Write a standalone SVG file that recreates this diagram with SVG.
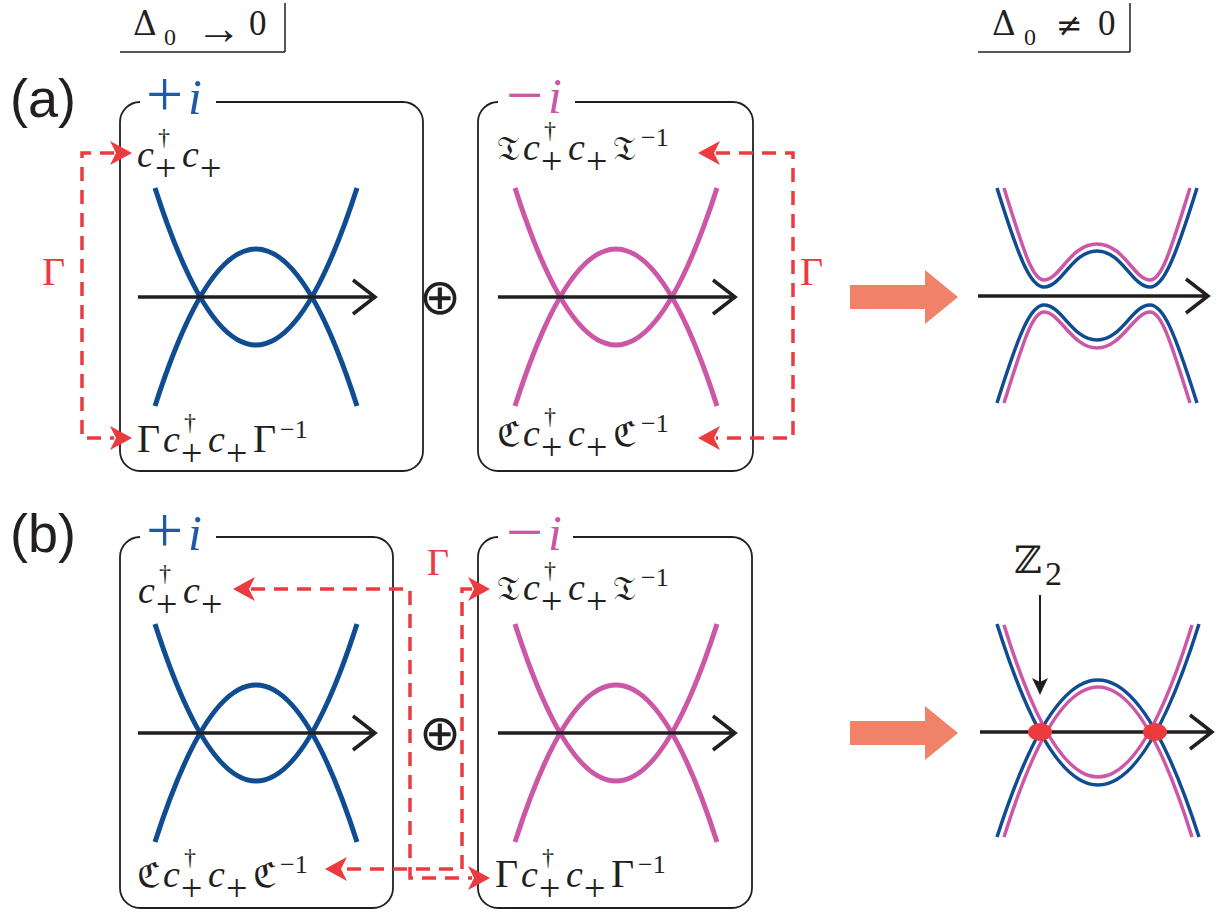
<svg xmlns="http://www.w3.org/2000/svg" xmlns:xlink="http://www.w3.org/1999/xlink" width="1225" height="914" viewBox="0 0 1225 914">
<style>
.m{font-family:"Liberation Serif",serif;fill:#231f20}
.it{font-style:italic}
.frak{font-family:"DejaVu Serif","DejaVu Sans","Noto Sans",serif}
.sans{font-family:"Liberation Sans",Arial,sans-serif;fill:#231f20}
.box{fill:none;stroke:#231f20;stroke-width:1.8}
.blue{fill:none;stroke:#0f4c92;stroke-width:5}
.pink{fill:none;stroke:#cc57a6;stroke-width:5}
.blue2{fill:none;stroke:#0f4c92;stroke-width:3.5}
.pink2{fill:none;stroke:#cc57a6;stroke-width:3.5}
.axis{fill:none;stroke:#231f20;stroke-width:3.5}
.dash{fill:none;stroke:#eb3b3f;stroke-width:3.5;stroke-dasharray:14 9}
.rh{fill:#eb3b3f}
.big{fill:#f0826a}
.thin{fill:none;stroke:#231f20;stroke-width:1.5}
.red{fill:#eb3b3f}
.op{font-family:"DejaVu Sans",sans-serif;fill:#231f20}
</style>
<defs>
<path id="ah" d="M0,0 Q-9,-5 -22,-12 L-16,0 L-22,12 Q-9,5 0,0 Z"/>
</defs>

<g id="headers">
<text class="m frak" x="133" y="35" font-size="33">Δ</text>
<text class="m" x="164" y="45" font-size="24">0</text>
<text class="m" x="196" y="44" font-size="46">→</text>
<text class="m" x="249" y="35" font-size="35">0</text>
<path class="thin" d="M120,52 H285 M285,3 V52"/>
<text class="m frak" x="992" y="35" font-size="33">Δ</text>
<text class="m" x="1024" y="45" font-size="24">0</text>
<text class="m frak" x="1056" y="36" font-size="32">≠</text>
<text class="m" x="1098" y="35" font-size="35">0</text>
<path class="thin" d="M978,52 H1130 M1130,3 V52"/>
</g>

<g id="panel-labels">
<text class="sans" x="10" y="117" font-size="54">(a)</text>
<text class="sans" x="10" y="552" font-size="54">(b)</text>
</g>

<g id="box-a-plus">
<path class="box" d="M216,102 H403 A20,20 0 0 1 423,122 V451 A20,20 0 0 1 403,471 H140 A20,20 0 0 1 120,451 V122 A20,20 0 0 1 140,102"/>
<text class="m" font-size="66" style="fill:#1f5aa6"><tspan x="146" y="116">+</tspan><tspan class="it" x="188" y="114" font-size="50">i</tspan></text>
<path class="blue" d="M155,188 Q256,502 357,188 M155,406 Q256,92 357,406"/>
<path class="axis" d="M138,297 H375 M353,280 L375,297 L353,314"/>
<text class="m" font-size="38"><tspan class="it" x="137" y="167">c</tspan><tspan x="158" y="145" font-size="24">†</tspan><tspan x="155" y="181">+</tspan><tspan class="it" x="182" y="167">c</tspan><tspan x="200" y="181">+</tspan></text>
<text class="m" font-size="38"><tspan x="137" y="452" font-size="40">Γ</tspan><tspan class="it" x="163" y="452">c</tspan><tspan x="184" y="430" font-size="24">†</tspan><tspan x="181" y="466">+</tspan><tspan class="it" x="208" y="452">c</tspan><tspan x="226" y="466">+</tspan><tspan x="253" y="452" font-size="40">Γ</tspan><tspan x="280" y="438" font-size="26">−1</tspan></text>
</g>

<g id="box-a-minus">
<path class="box" d="M575,102 H733 A20,20 0 0 1 753,122 V451 A20,20 0 0 1 733,471 H498 A20,20 0 0 1 478,451 V122 A20,20 0 0 1 498,102"/>
<text class="m" font-size="66" style="fill:#cc57a6"><tspan x="506" y="117">−</tspan><tspan class="it" x="548" y="113" font-size="50">i</tspan></text>
<path class="pink" d="M515,188 Q616,502 717,188 M515,406 Q616,92 717,406"/>
<path class="axis" d="M498,297 H735 M713,280 L735,297 L713,314"/>
<text class="m" font-size="38"><tspan class="frak" x="497" y="160" font-size="34">𝔗</tspan><tspan class="it" x="523" y="160">c</tspan><tspan x="544" y="138" font-size="24">†</tspan><tspan x="541" y="174">+</tspan><tspan class="it" x="568" y="160">c</tspan><tspan x="586" y="174">+</tspan><tspan class="frak" x="613" y="160" font-size="34">𝔗</tspan><tspan x="641" y="146" font-size="26">−1</tspan></text>
<text class="m" font-size="38"><tspan class="frak" x="497" y="446" font-size="34">ℭ</tspan><tspan class="it" x="523" y="446">c</tspan><tspan x="544" y="424" font-size="24">†</tspan><tspan x="541" y="460">+</tspan><tspan class="it" x="568" y="446">c</tspan><tspan x="586" y="460">+</tspan><tspan class="frak" x="613" y="446" font-size="34">ℭ</tspan><tspan x="641" y="432" font-size="26">−1</tspan></text>
</g>

<g id="oplus-a"><text class="op" x="440" y="314" font-size="50" text-anchor="middle">⊕</text></g>

<g id="gap-a">
<path class="big" d="M850,285 H925 V270 L958,297 L925,324 V309 H850 Z"/>
</g>

<g id="bands-a">
<path class="axis" d="M978,296 H1208 M1186,279 L1208,296 L1186,313"/>
<path class="blue2" d="M997,188 C1020,262 1031,287 1044,287 C1062,287 1072,251 1097,251 C1122,251 1132,287 1150,287 C1163,287 1174,262 1197,188"/>
<path class="pink2" d="M1004,188 C1025,256 1033,280 1044,280 C1060,280 1070,244 1097,244 C1124,244 1134,280 1150,280 C1161,280 1169,256 1190,188"/>
<path class="blue2" d="M997,403 C1020,330 1031,305 1044,305 C1062,305 1072,340 1097,340 C1122,340 1132,305 1150,305 C1163,305 1174,330 1197,403"/>
<path class="pink2" d="M1004,403 C1025,336 1033,312 1044,312 C1060,312 1072,348 1097,348 C1122,348 1134,312 1150,312 C1161,312 1169,336 1190,403"/>
</g>

<g id="box-b-plus">
<path class="box" d="M216,537 H373 A20,20 0 0 1 393,557 V888 A20,20 0 0 1 373,908 H140 A20,20 0 0 1 120,888 V557 A20,20 0 0 1 140,537"/>
<text class="m" font-size="66" style="fill:#1f5aa6"><tspan x="146" y="552">+</tspan><tspan class="it" x="188" y="550" font-size="50">i</tspan></text>
<path class="blue" d="M155,624 Q256,938 357,624 M155,842 Q256,528 357,842"/>
<path class="axis" d="M138,733 H375 M353,716 L375,733 L353,750"/>
<text class="m" font-size="38"><tspan class="it" x="138" y="603">c</tspan><tspan x="159" y="581" font-size="24">†</tspan><tspan x="156" y="617">+</tspan><tspan class="it" x="183" y="603">c</tspan><tspan x="201" y="617">+</tspan></text>
<text class="m" font-size="38"><tspan class="frak" x="137" y="887" font-size="34">ℭ</tspan><tspan class="it" x="163" y="887">c</tspan><tspan x="184" y="865" font-size="24">†</tspan><tspan x="181" y="901">+</tspan><tspan class="it" x="208" y="887">c</tspan><tspan x="226" y="901">+</tspan><tspan class="frak" x="253" y="887" font-size="34">ℭ</tspan><tspan x="280" y="873" font-size="26">−1</tspan></text>
</g>

<g id="box-b-minus">
<path class="box" d="M573,537 H732 A20,20 0 0 1 752,557 V888 A20,20 0 0 1 732,908 H498 A20,20 0 0 1 478,888 V557 A20,20 0 0 1 498,537"/>
<text class="m" font-size="66" style="fill:#cc57a6"><tspan x="506" y="554">−</tspan><tspan class="it" x="548" y="550" font-size="50">i</tspan></text>
<path class="pink" d="M515,624 Q616,938 717,624 M515,842 Q616,528 717,842"/>
<path class="axis" d="M498,733 H735 M713,716 L735,733 L713,750"/>
<text class="m" font-size="38"><tspan class="frak" x="497" y="600" font-size="34">𝔗</tspan><tspan class="it" x="523" y="600">c</tspan><tspan x="544" y="578" font-size="24">†</tspan><tspan x="541" y="614">+</tspan><tspan class="it" x="568" y="600">c</tspan><tspan x="586" y="614">+</tspan><tspan class="frak" x="613" y="600" font-size="34">𝔗</tspan><tspan x="641" y="586" font-size="26">−1</tspan></text>
<text class="m" font-size="38"><tspan x="495" y="887" font-size="40">Γ</tspan><tspan class="it" x="521" y="887">c</tspan><tspan x="542" y="865" font-size="24">†</tspan><tspan x="539" y="901">+</tspan><tspan class="it" x="566" y="887">c</tspan><tspan x="584" y="901">+</tspan><tspan x="611" y="887" font-size="40">Γ</tspan><tspan x="638" y="873" font-size="26">−1</tspan></text>
</g>

<g id="oplus-b"><text class="op" x="440" y="750" font-size="50" text-anchor="middle">⊕</text></g>

<g id="gap-b">
<path class="big" d="M850,721 H925 V706 L958,733 L925,760 V745 H850 Z"/>
</g>

<g id="bands-b">
<path class="axis" d="M980,732 H1212 M1190,715 L1212,732 L1190,749"/>
<path class="blue2" d="M997,624 Q1098,946 1199,624 M997,837 Q1098,523 1199,837"/>
<path class="pink2" d="M1004,625 Q1098,929 1192,625 M1004,837 Q1098,537 1192,837"/>
<ellipse cx="1040" cy="732" rx="12" ry="9" class="red"/>
<ellipse cx="1155" cy="732" rx="12" ry="9" class="red"/>
<text class="m frak" x="1014" y="573" font-size="38">ℤ</text>
<text class="m" x="1045" y="585" font-size="34">2</text>
<path d="M1040,595 V684" stroke="#231f20" stroke-width="2" fill="none"/>
<path d="M1040,695 Q1036,686 1032,678 L1040,682 L1048,678 Q1044,686 1040,695 Z" fill="#231f20"/>
</g>

<g id="connectors">
<path class="dash" d="M114,153 H82 V438 H114"/>
<use xlink:href="#ah" class="rh" transform="translate(132,153)"/>
<use xlink:href="#ah" class="rh" transform="translate(132,438)"/>
<text class="m" x="42" y="285" font-size="40" style="fill:#eb3b3f">Γ</text>
<path class="dash" d="M716,153 H793 V438 H716"/>
<use xlink:href="#ah" class="rh" transform="translate(698,153) rotate(180)"/>
<use xlink:href="#ah" class="rh" transform="translate(698,438) rotate(180)"/>
<text class="m" x="800" y="285" font-size="40" style="fill:#eb3b3f">Γ</text>
<path class="dash" d="M251,589 H410 V878 H472"/>
<use xlink:href="#ah" class="rh" transform="translate(233,589) rotate(180)"/>
<use xlink:href="#ah" class="rh" transform="translate(490,878)"/>
<path class="dash" d="M472,589 H462 V869 H343"/>
<use xlink:href="#ah" class="rh" transform="translate(490,589)"/>
<use xlink:href="#ah" class="rh" transform="translate(325,869) rotate(180)"/>
<text class="m" x="427" y="575" font-size="38" style="fill:#eb3b3f">Γ</text>
</g>
</svg>
